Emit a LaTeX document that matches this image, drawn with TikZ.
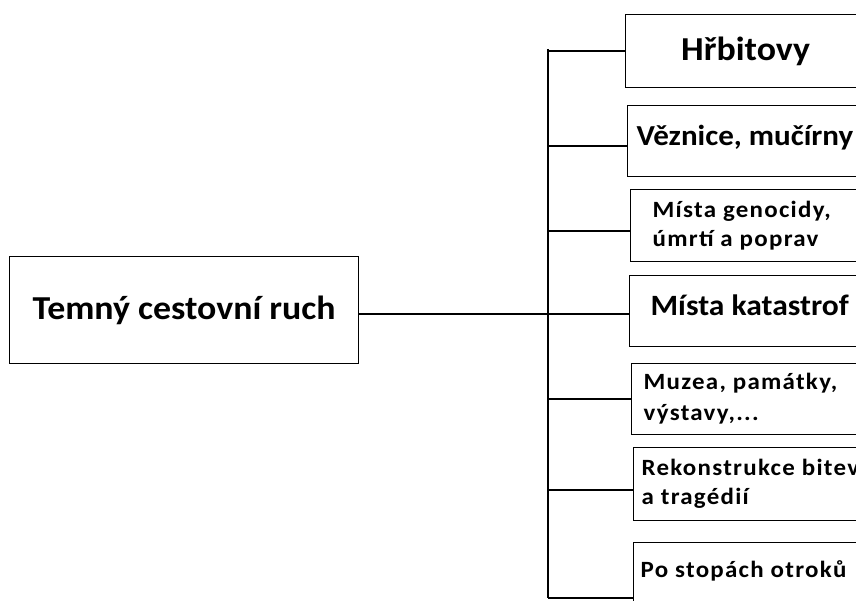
\documentclass[tikz,border=0pt]{standalone}
\usepackage{fontspec}
\setmainfont[FakeStretch=1.07]{Carlito}
\newfontfamily\smallfont[FakeStretch=1.07,LetterSpace=5.5]{Carlito}

\begin{document}
\begin{tikzpicture}[x=1pt,y=-1pt,line width=1.3pt,
    box/.style={draw,rectangle,anchor=north west,inner ysep=0pt,text width=320pt,align=flush left},
    big/.style={font=\bfseries\fontsize{#1}{34}\selectfont},
    small/.style={font=\smallfont\bfseries\fontsize{23.3}{#1}\selectfont},
    up/.style={execute at end node={\endgraf\vspace*{#1}}}]
    \useasboundingbox (0,0) rectangle (856,601);
    \clip (0,0) rectangle (856,601);
    \node[draw,rectangle,anchor=north west,inner sep=0pt,minimum width=349pt,minimum height=107pt,font=\bfseries\fontsize{33.5}{40}\selectfont] (main) at (9,256) {Temný cestovní ruch};
    \node[draw,rectangle,anchor=north west,inner sep=0pt,minimum width=240pt,minimum height=73pt,font=\bfseries\fontsize{33.5}{40}\selectfont] (b1) at (625,14) {Hřbitovy};
    \node[box,big=29,inner xsep=9pt,minimum height=71pt,up=8pt] (b2) at (627,105) {Věznice, mučírny};
    \node[box,small=29,inner xsep=22pt,minimum height=72pt] (b3) at (630,189) {Místa genocidy,\\úmrtí a poprav};
    \node[box,big=29.5,inner xsep=21pt,minimum height=71pt,up=12pt] (b4) at (629,275) {Místa katastrof};
    \node[box,small=31,inner xsep=12pt,minimum height=71pt] (b5) at (631,363) {Muzea, památky,\\výstavy,...};
    \node[box,small=29,inner xsep=8pt,minimum height=73pt] (b6) at (633,447) {Rekonstrukce bitev\\a tragédií};
    \node[box,small=32,inner xsep=7pt,minimum height=70pt,up=14pt] (b7) at (633,542) {Po stopách otroků};
    \coordinate (top) at (548,49);
    \coordinate (bot) at (548,598);
    \draw (top) -- (bot);
    \draw (main.east |- 0,314) -- (b4.west |- 0,314);
    \foreach \b/\y in {b1/51,b2/146,b3/231,b5/399,b6/490,b7/598}
        \draw (top |- 0,\y) -- (\b.west |- 0,\y);
\end{tikzpicture}
\end{document}
